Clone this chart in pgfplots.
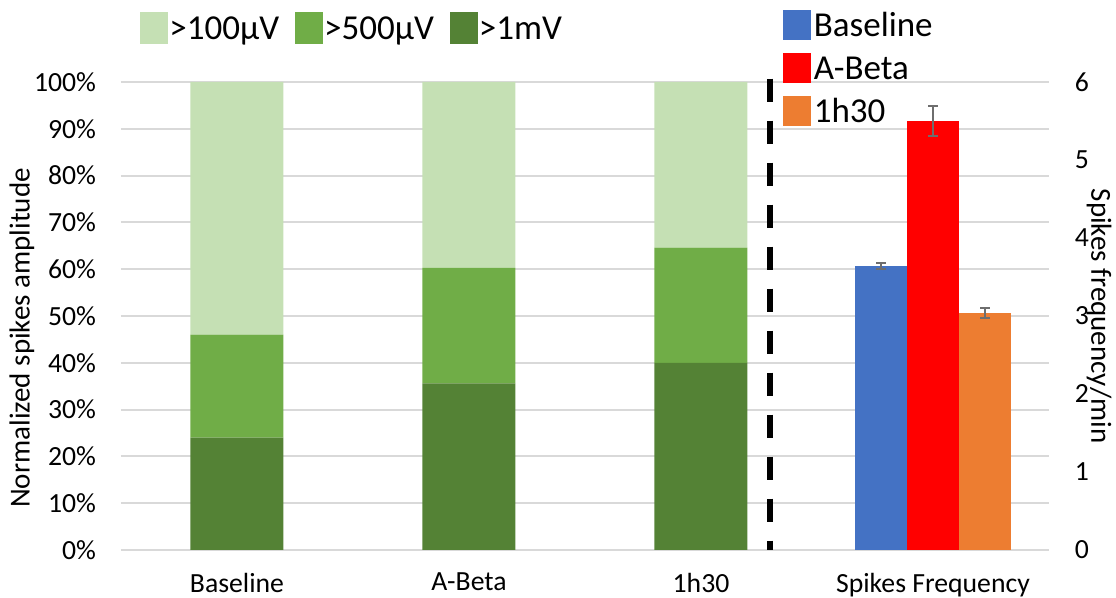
\documentclass[border=0pt]{standalone}
\usepackage{pgfplots}
\pgfplotsset{compat=1.18}
\usepackage{fontspec}
\setmainfont{Carlito}
\definecolor{lg}{HTML}{C5E0B4}
\definecolor{mg}{HTML}{70AD47}
\definecolor{dg}{HTML}{548235}
\definecolor{bl}{HTML}{4472C4}
\definecolor{rd}{HTML}{FF0000}
\definecolor{orc}{HTML}{ED7D31}
\definecolor{gridc}{HTML}{D9D9D9}
\definecolor{errc}{HTML}{6E6E6E}
\newcommand{\tickfont}{\fontsize{13.85bp}{16.6bp}\selectfont}
\newcommand{\labfont}{\fontsize{14.5bp}{17bp}\selectfont}
\newcommand{\legfont}{\fontsize{17.5bp}{21bp}\selectfont}
\begin{document}
\begin{tikzpicture}
% ---------- left axis: stacked amplitudes ----------
\begin{axis}[
  at={(0,0)}, anchor=south west,
  scale only axis, width=464bp, height=234bp,
  xmin=-0.5, xmax=3.5, ymin=0, ymax=100,
  ybar stacked, bar width=46.5bp,
  axis x line*=bottom, axis y line*=left,
  axis line style={draw=none},
  major tick length=0pt,
  xtick={0,1,2,3},
  xticklabels={Baseline, A-Beta, 1h30, Spikes Frequency},
  ytick={0,10,20,30,40,50,60,70,80,90,100},
  yticklabels={0\%,10\%,20\%,30\%,40\%,50\%,60\%,70\%,80\%,90\%,100\%},
  ymajorgrids, grid style={gridc, line width=1bp},
  ticklabel style={font=\tickfont},
  yticklabel style={xshift=-9bp},
  xticklabel style={yshift=-8bp},
  ylabel={Normalized spikes amplitude},
  every axis y label/.style={at={(axis description cs:-0.1067,0.453)}, anchor=center, rotate=90, font=\labfont},
  legend columns=3, reverse legend, legend cell align=left,
  legend style={draw=none, fill=none, inner sep=0pt,
    at={(axis description cs:0.0205,1.1154)}, anchor=west,
    font=\legfont,
    nodes={inner xsep=0.5bp, inner ysep=0pt, text height=14bp, text depth=2.7bp},
    /tikz/every even column/.append style={column sep=7.5bp}},
  legend image code/.code={\fill[#1,draw=none] (0bp,-8bp) rectangle (14bp,8bp);},
]
\addplot[fill=dg, draw=none] coordinates {(0,24.0) (1,35.6) (2,40.0)};
\addlegendentry{>1mV}
\addplot[fill=mg, draw=none] coordinates {(0,22.0) (1,24.7) (2,24.6)};
\addlegendentry{>500µV}
\addplot[fill=lg, draw=none] coordinates {(0,54.0) (1,39.7) (2,35.4)};
\addlegendentry{>100µV}
\end{axis}
% ---------- right axis: spikes frequency ----------
\begin{axis}[
  at={(0,0)}, anchor=south west,
  scale only axis, width=464bp, height=234bp,
  xmin=-0.5, xmax=3.5, ymin=0, ymax=6,
  clip=false,
  axis y line*=right, hide x axis,
  axis line style={draw=none},
  major tick length=0pt,
  ytick={0,1,2,3,4,5,6},
  yticklabels={0,1,2,3,4,5,6},
  ticklabel style={font=\tickfont},
  yticklabel style={xshift=9.4bp},
  ylabel={Spikes frequency/min},
  every axis y label/.style={at={(axis description cs:1.054,0.5)}, anchor=center, rotate=-90, font=\labfont},
  ybar=0pt, bar width=26bp,
  legend cell align=left,
  legend style={draw=none, fill=none, inner sep=0pt,
    at={(axis description cs:0.7134,1.1585)}, anchor=north west,
    font=\legfont, row sep=4.8bp,
    nodes={inner xsep=1.2bp, inner ysep=0pt, text height=14bp, text depth=2.7bp}},
  legend image code/.code={\fill[#1,draw=none] (0bp,-7.3bp) rectangle (14bp,7.3bp);},
]
\addplot[fill=bl, draw=none,
  error bars/.cd, y dir=both, y explicit,
  error bar style={errc, line width=1bp},
  error mark options={errc, line width=1bp, mark size=2.3bp, rotate=90}]
  coordinates {(3,3.64) +- (0,0.037)};
\addlegendentry{Baseline}
\addplot[fill=rd, draw=none,
  error bars/.cd, y dir=both, y explicit,
  error bar style={errc, line width=1bp},
  error mark options={errc, line width=1bp, mark size=2.3bp, rotate=90}]
  coordinates {(3,5.50) +- (0,0.195)};
\addlegendentry{A-Beta}
\addplot[fill=orc, draw=none,
  error bars/.cd, y dir=both, y explicit,
  error bar style={errc, line width=1bp},
  error mark options={errc, line width=1bp, mark size=2.3bp, rotate=90}]
  coordinates {(3,3.04) +- (0,0.064)};
\addlegendentry{1h30}
\end{axis}
% ---------- dashed separator ----------
\begin{axis}[
  at={(0,0)}, anchor=south west,
  scale only axis, width=464bp, height=234bp,
  xmin=-0.5, xmax=3.5, ymin=0, ymax=100,
  hide axis, clip=false,
]
\addplot[black, line width=3bp, mark=none, dash pattern=on 11.5bp off 9.5bp]
  coordinates {(2.297,100.7) (2.297,0)};
\end{axis}
\pgfresetboundingbox
\path (-60.5bp,-24bp) rectangle (497.5bp,275bp);
\end{tikzpicture}
\end{document}
